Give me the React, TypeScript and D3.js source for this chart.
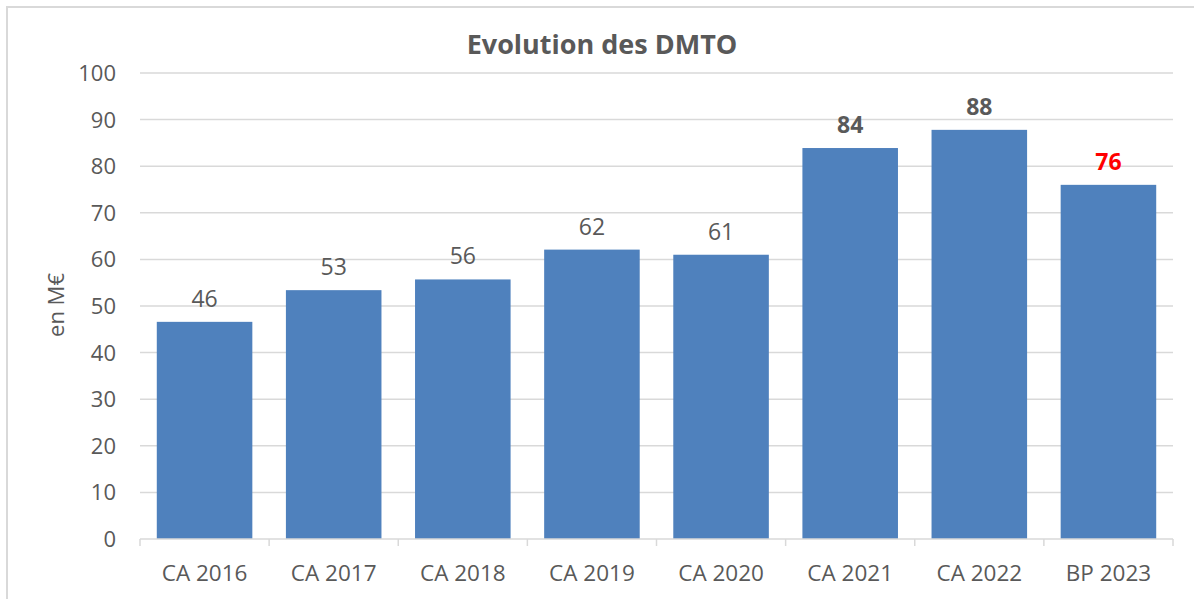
import React from 'react';
import * as d3 from 'd3';

const categories = ['CA 2016', 'CA 2017', 'CA 2018', 'CA 2019', 'CA 2020', 'CA 2021', 'CA 2022', 'BP 2023'];
const values = [46.6, 53.4, 55.7, 62.1, 61.0, 83.9, 87.8, 76.0];
const labels = ['46', '53', '56', '62', '61', '84', '88', '76'];
const boldLabels = [false, false, false, false, false, true, true, true];
const labelColors = ['#595959', '#595959', '#595959', '#595959', '#595959', '#595959', '#595959', '#ff0000'];
const yTicks = [0, 10, 20, 30, 40, 50, 60, 70, 80, 90, 100];

const W = 1194;
const H = 599;
const FONT = "'Open Sans', 'Noto Sans', sans-serif";

const App = () => {
  const x = d3.scaleBand<string>().domain(categories).range([140, 1173]).paddingInner(0.26).paddingOuter(0.13);
  const y = d3.scaleLinear().domain([0, 100]).range([539, 73]);

  return (
    <svg width={W} height={H} style={{ position: 'absolute', left: 0, top: 0, display: 'block' }} fontFamily={FONT}>
      <rect x={0} y={0} width={W} height={H} fill="#fff" />
      <rect x={7} y={7} width={W} height={H} fill="none" stroke="#d9d9d9" strokeWidth={2} />

      <text x={602} y={54} textAnchor="middle" fontSize={27} fontWeight="bold" fill="#595959">
        Evolution des DMTO
      </text>

      {/* gridlines */}
      {yTicks.filter(t => t > 0).map(t => (
        <line key={t} x1={140} x2={1173} y1={y(t)} y2={y(t)} stroke="#d9d9d9" strokeWidth={1.5} />
      ))}

      {/* y tick labels */}
      {yTicks.map(t => (
        <text key={t} x={116} y={y(t)} dy="0.36em" textAnchor="end" fontSize={22} fill="#595959">{t}</text>
      ))}

      <text transform="translate(64,305) rotate(-90)" textAnchor="middle" fontSize={22} fill="#595959">en M€</text>

      {/* bars */}
      {categories.map((c, i) => (
        <rect key={c} x={x(c)} y={y(values[i])} width={x.bandwidth()} height={y(0) - y(values[i])} fill="#4f81bd" />
      ))}

      {/* value labels */}
      {categories.map((c, i) => (
        <text key={c} x={(x(c) ?? 0) + x.bandwidth() / 2} y={y(values[i]) - 15} textAnchor="middle"
          fontSize={23} fontWeight={boldLabels[i] ? 'bold' : 'normal'} fill={labelColors[i]}>
          {labels[i]}
        </text>
      ))}

      {/* x axis */}
      <line x1={140} x2={1173} y1={539} y2={539} stroke="#d9d9d9" strokeWidth={1.5} />
      {d3.range(categories.length + 1).map(i => {
        const xx = 140 + i * x.step();
        return <line key={i} x1={xx} x2={xx} y1={539} y2={546} stroke="#d9d9d9" strokeWidth={1.5} />;
      })}
      {categories.map(c => (
        <text key={c} x={(x(c) ?? 0) + x.bandwidth() / 2} y={581} textAnchor="middle" fontSize={22.5} fill="#595959">{c}</text>
      ))}
    </svg>
  );
};

export default App;
